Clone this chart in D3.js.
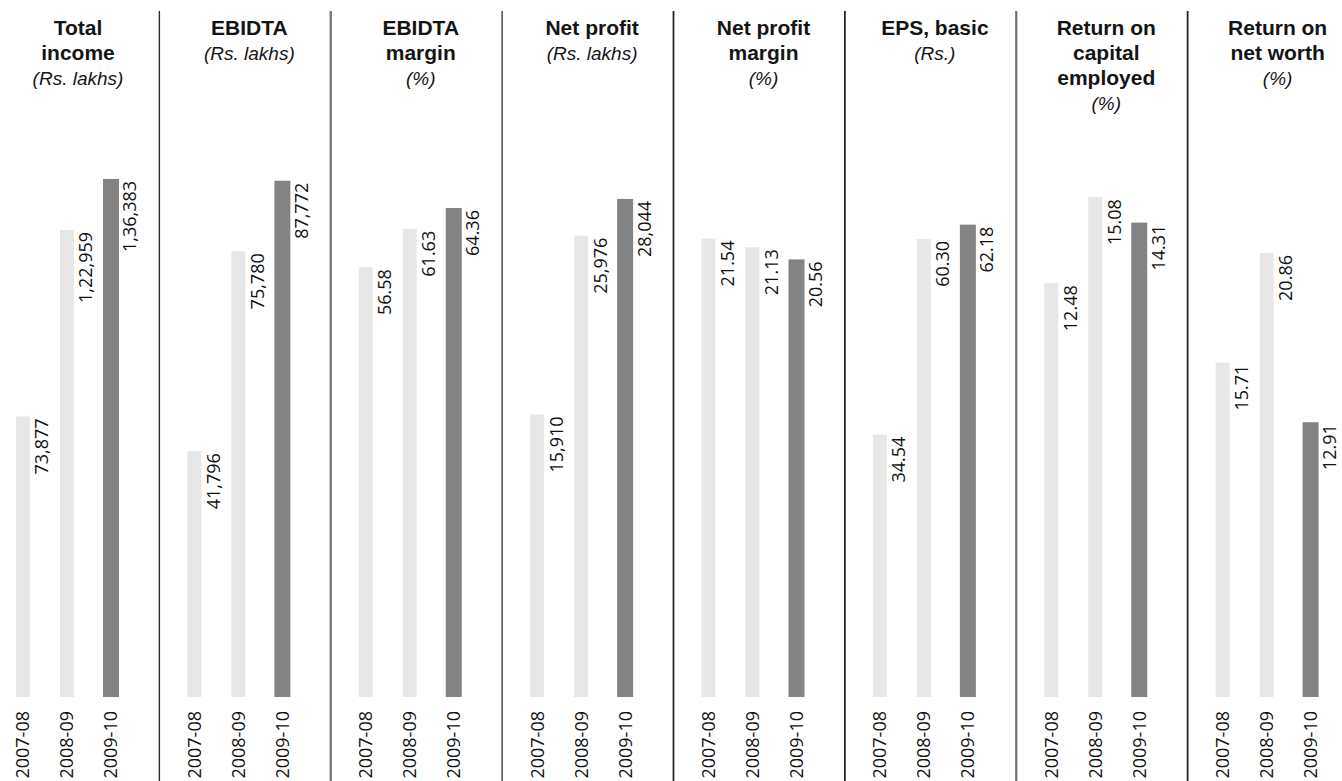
<!DOCTYPE html>
<html>
<head>
<meta charset="utf-8">
<script src="https://cdn.jsdelivr.net/npm/d3@7"></script>
<style>
  html, body { margin: 0; padding: 0; background: #ffffff; }
  svg { display: block; }
</style>
</head>
<body>
<svg id="chart" width="1342" height="781"></svg>
<script>
// Financial years shown in every panel
const years = ["2007-08", "2008-09", "2009-10"];

// Panel headings (bold lines) and units (italic line)
const metricTitles = [
  ["Total", "income"],
  ["EBIDTA"],
  ["EBIDTA", "margin"],
  ["Net profit"],
  ["Net profit", "margin"],
  ["EPS, basic"],
  ["Return on", "capital", "employed"],
  ["Return on", "net worth"]
];
const metricUnits = ["(Rs. lakhs)", "(Rs. lakhs)", "(%)", "(Rs. lakhs)", "(%)", "(Rs.)", "(%)", "(%)"];

// Series values, one array per metric
const totalIncome      = [73877, 122959, 136383];
const ebidta           = [41796, 75780, 87772];
const ebidtaMargin     = [56.58, 61.63, 64.36];
const netProfit        = [15910, 25976, 28044];
const netProfitMargin  = [21.54, 21.13, 20.56];
const epsBasic         = [34.54, 60.30, 62.18];
const returnOnCapital  = [12.48, 15.08, 14.31];
const returnOnNetWorth = [15.71, 20.86, 12.91];

// Each panel has its own value axis; these are the axis ceilings
const axisCeilings = [144000, 93000, 72, 30800, 25.7, 72, 16.5, 25.7];

const series = [totalIncome, ebidta, ebidtaMargin, netProfit,
                netProfitMargin, epsBasic, returnOnCapital, returnOnNetWorth];

// Rupee amounts use Indian digit grouping, ratios keep two decimals
function indianGroup(n) {
  const s = String(Math.round(n));
  if (s.length <= 3) return s;
  const last3 = s.slice(-3);
  let rest = s.slice(0, -3);
  const parts = [];
  while (rest.length > 2) { parts.unshift(rest.slice(-2)); rest = rest.slice(0, -2); }
  if (rest.length) parts.unshift(rest);
  return parts.join(",") + "," + last3;
}
function formatValue(v, unit) {
  return unit === "(Rs. lakhs)" ? indianGroup(v) : v.toFixed(2);
}

const W = 1342, H = 781;
const svg = d3.select("#chart");

const BASE_Y = 697, TOP_Y = 150;
const FONT = "'Open Sans', 'Noto Sans', 'DejaVu Sans', sans-serif";
const HEAD_FONT = "'Liberation Sans', Arial, sans-serif";

// Panels laid side by side
const panelX = d3.scaleBand()
  .domain(d3.range(series.length))
  .range([-12, 1359])
  .paddingInner(0).paddingOuter(0);

// Year positions inside a panel
const yearX = d3.scalePoint().domain(years).range([35, 123]);

const dividerTone = ["#2e2e2e", "#7b7b7b", "#2e2e2e", "#262626", "#262626", "#6f6f6f", "#262626"];
const dividerWidth = [1.4, 2.4, 1.3, 1.8, 1.8, 2.2, 1.8];

// Vertical separators between panels
svg.append("g").attr("class", "dividers")
  .selectAll("line")
  .data(d3.range(1, series.length))
  .join("line")
  .attr("x1", i => panelX(i))
  .attr("x2", i => panelX(i))
  .attr("y1", 11)
  .attr("y2", H)
  .attr("stroke", (d, i) => dividerTone[i])
  .attr("stroke-width", (d, i) => dividerWidth[i]);

series.forEach((values, p) => {
  const left = panelX(p);
  const g = svg.append("g").attr("transform", `translate(${left},0)`);
  const y = d3.scaleLinear().domain([0, axisCeilings[p]]).range([BASE_Y, TOP_Y]);

  // Heading: bold title lines followed by the italic unit
  const titleX = 90;
  const lineH = 25;
  const head = g.append("g").attr("class", "heading")
    .attr("font-family", HEAD_FONT)
    .attr("fill", "#141414")
    .attr("text-anchor", "middle");
  metricTitles[p].forEach((t, k) => {
    head.append("text")
      .attr("x", titleX).attr("y", 35 + k * lineH)
      .attr("font-weight", 700)
      .attr("font-size", 21)
      .text(t);
  });
  head.append("text")
    .attr("x", titleX).attr("y", 35 + metricTitles[p].length * lineH)
    .attr("font-style", "italic")
    .attr("font-size", 19)
    .text(metricUnits[p]);

  const rows = years.map((yr, i) => ({ year: yr, value: values[i], latest: i === years.length - 1 }));

  // Bars
  g.selectAll("rect.bar")
    .data(rows)
    .join("rect")
    .attr("class", "bar")
    .attr("x", d => yearX(d.year) - (d.latest ? 8 : 7))
    .attr("width", d => d.latest ? 16 : 14)
    .attr("y", d => y(d.value))
    .attr("height", d => BASE_Y - y(d.value))
    .attr("fill", d => d.latest ? "#838383" : "#e7e7e7");

  // Value labels, rotated, ending at the bar top
  g.selectAll("text.value")
    .data(rows)
    .join("text")
    .attr("class", "value")
    .attr("transform", d => `translate(${yearX(d.year) + 19},${y(d.value) + 2}) rotate(-90)`)
    .attr("text-anchor", "end")
    .attr("dy", "0.36em")
    .attr("font-family", FONT)
    .attr("font-size", 18)
    .attr("fill", "#111111")
    .text(d => formatValue(d.value, metricUnits[p]));

  // Year labels under the bars
  g.selectAll("text.year")
    .data(rows)
    .join("text")
    .attr("class", "year")
    .attr("transform", d => `translate(${yearX(d.year)},711) rotate(-90)`)
    .attr("text-anchor", "end")
    .attr("dy", "0.36em")
    .attr("font-family", FONT)
    .attr("font-size", 18)
    .attr("fill", "#111111")
    .text(d => d.year);
});
</script>
</body>
</html>
